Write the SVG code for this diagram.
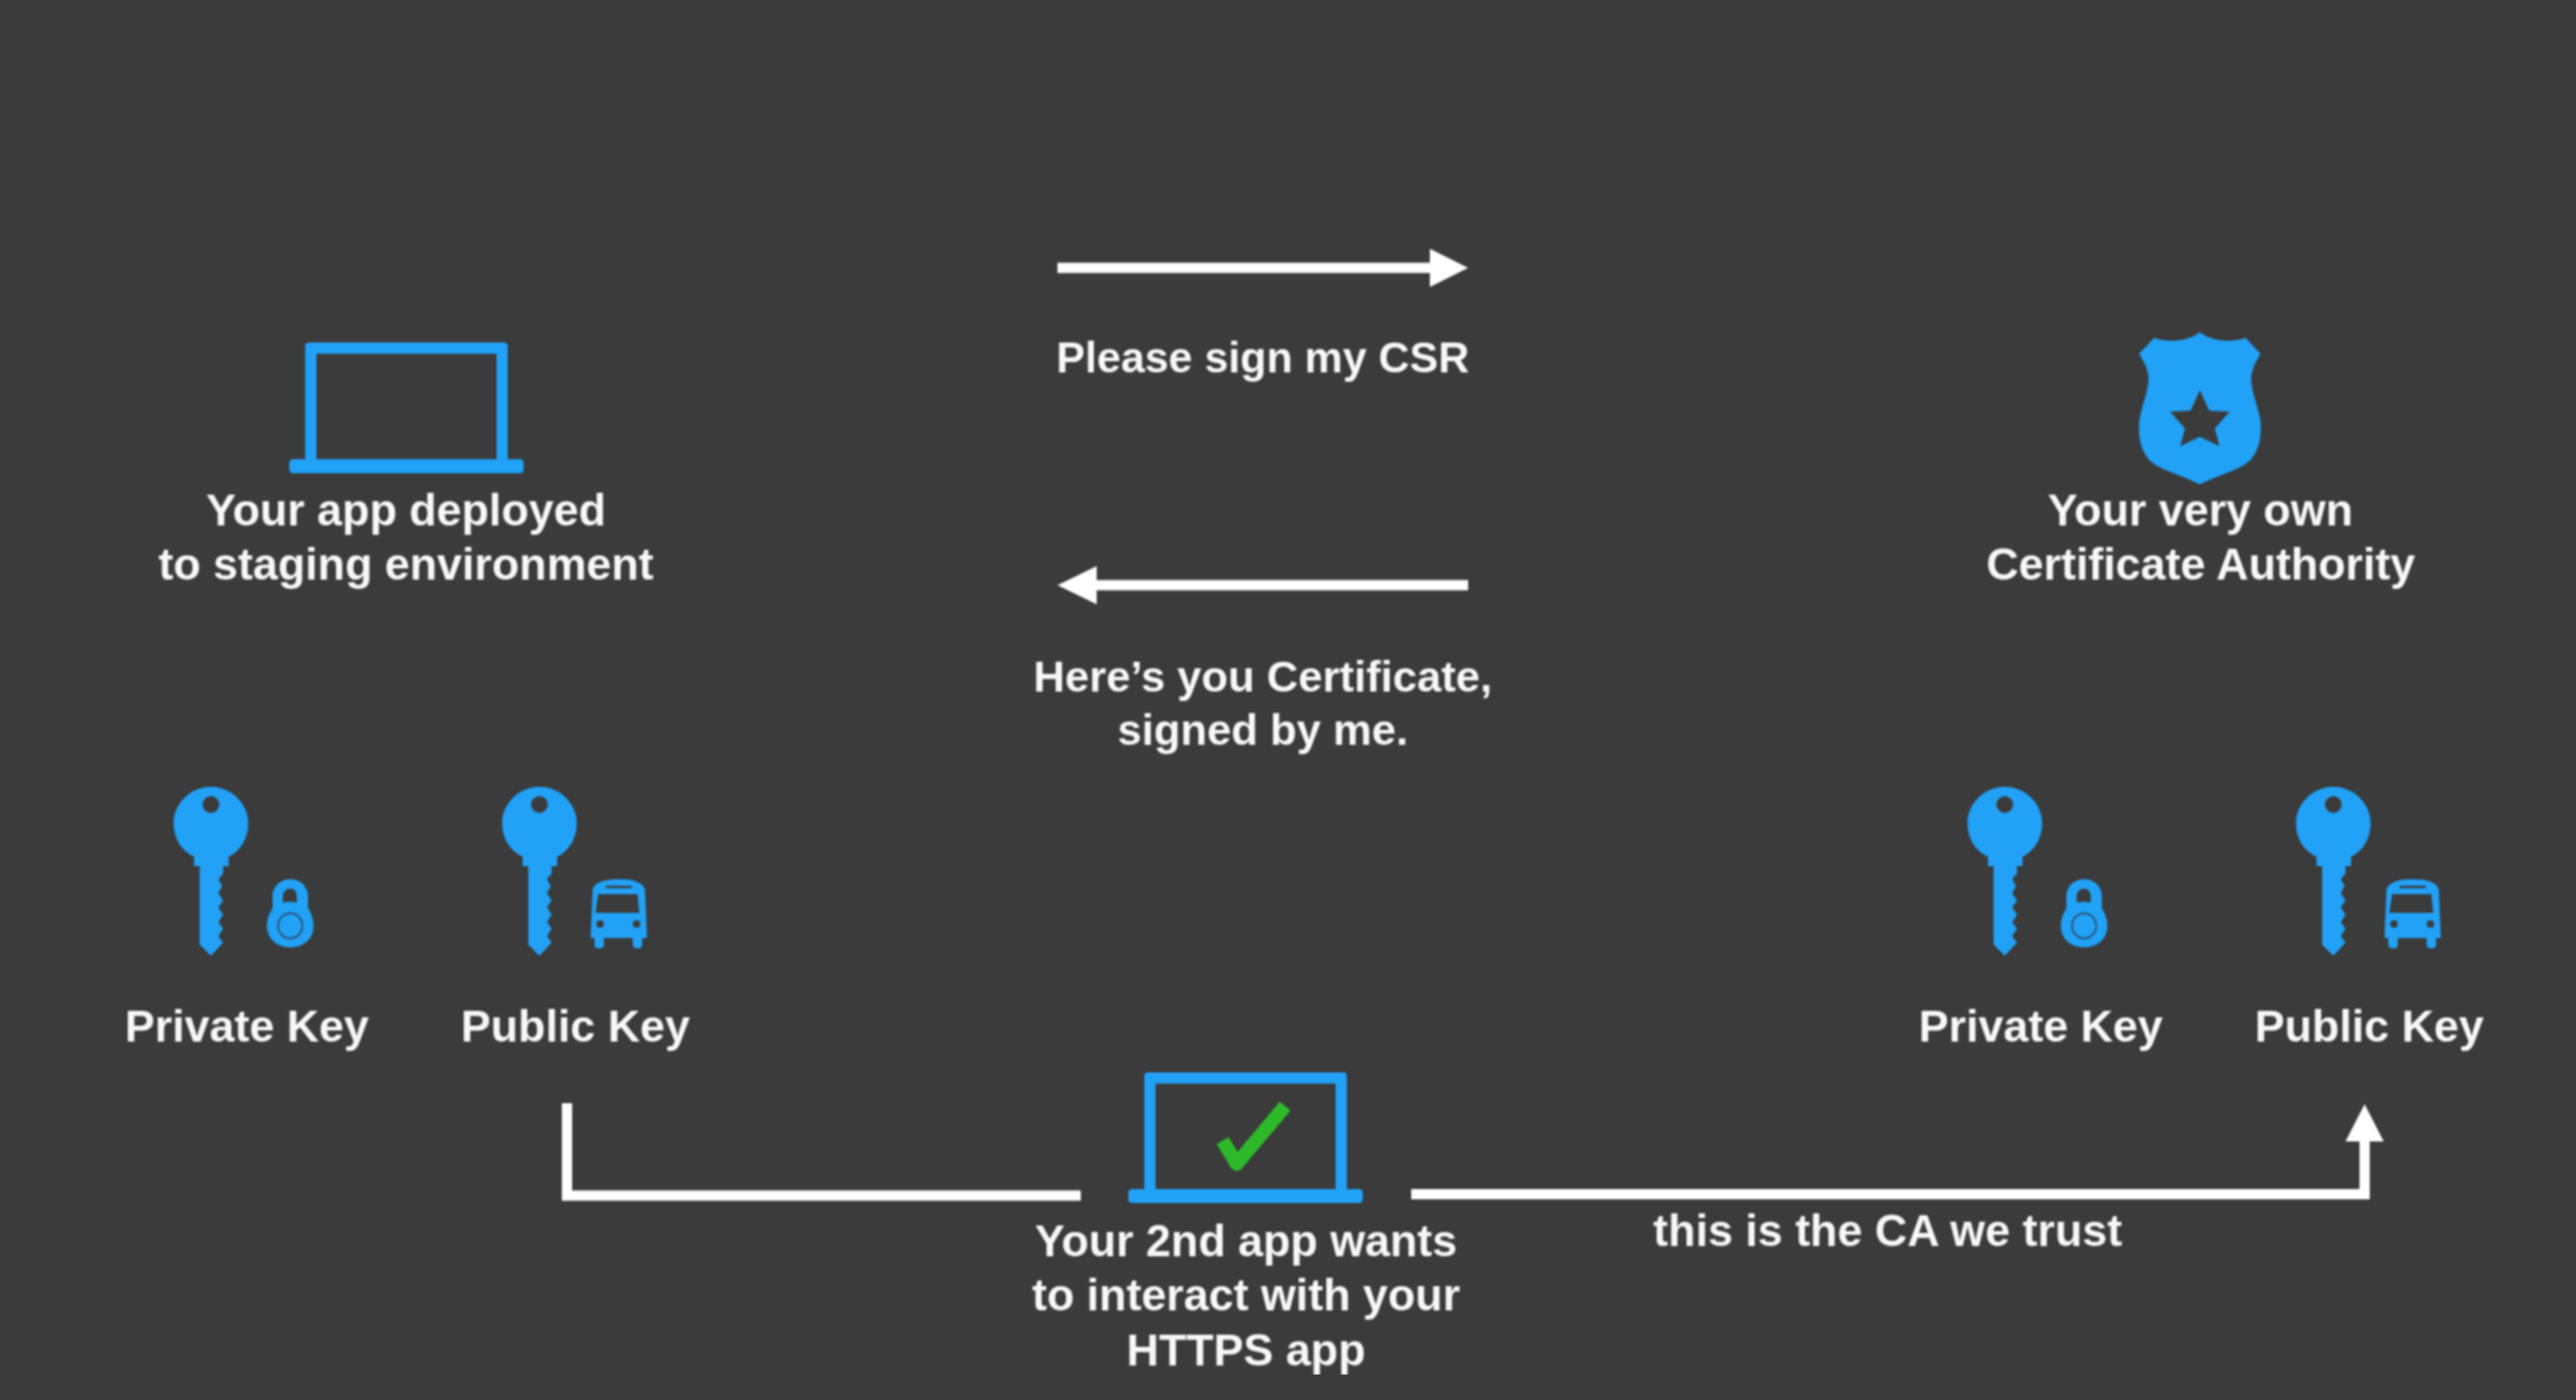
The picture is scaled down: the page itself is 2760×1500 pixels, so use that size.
<svg xmlns="http://www.w3.org/2000/svg" width="2760" height="1500" viewBox="0 0 2760 1500">
<style>
.t{font-family:"Liberation Sans",Arial,sans-serif;font-weight:700;font-size:48px;fill:#f8f8f8;text-anchor:middle}
.s{font-size:46px}
.m{font-size:46.700px}
.b{fill:#20a2f7}
.c{fill:none;stroke:#fff;stroke-width:11}
.h{fill:#fff}
</style>
<defs>
<filter id="soft" x="0" y="0" width="100%" height="100%"><feGaussianBlur stdDeviation="0.800"/></filter>
<path id="key" class="b" fill-rule="evenodd" d="M225 843C247 843 265 861 265 882C265 899 256 912 244 918V928H238V936L233 942L237 949L233 957L238 965L233 972L238 980L233 988L238 995L233 1003L238 1010L225 1024L213 1012V928H207V918C194 912 185 899 185 882C185 861 203 843 225 843ZM225 853A9 9 0 1 0 225 871A9 9 0 1 0 225 853Z"/>
<g id="lock">
<path class="b" fill-rule="evenodd" d="M311 942C322 942 330 950 330 960V973C333 978 336 985 336 992C336 1006 325 1015 311 1015C297 1015 286 1006 286 992C286 985 289 978 292 973V960C292 950 300 942 311 942ZM311 952C306 952 303 956 303 961V967C306 967 308 966 311 966C313 966 316 967 318 967V961C318 956 316 952 311 952Z"/>
<ellipse cx="311" cy="992" rx="13" ry="13.500" fill="none" stroke="#2b4258" stroke-width="2"/>
</g>
<path id="bus" class="b" fill-rule="evenodd" d="M663 942C677 942 689 945 691 953L693 1000V1005H688V1012Q688 1016 684 1016H682Q678 1016 678 1012V1005H647V1012Q647 1016 643 1016H641Q637 1016 637 1012V1005H633V1000L635 953C637 945 649 942 663 942ZM649 949V951.500H677V949ZM641 958L638 978H685L683 958ZM643 986A4 4 0 1 0 643 994A4 4 0 1 0 643 986ZM682 986A4 4 0 1 0 682 994A4 4 0 1 0 682 986Z"/>
<path id="laptop" class="b" fill-rule="evenodd" d="M331 367H540Q544 367 544 371V492H557Q561 492 561 496V503Q561 507 557 507H314Q310 507 310 503V496Q310 492 314 492H327V371Q327 367 331 367ZM339 379V492H532V379Z"/>
</defs>
<rect width="2760" height="1500" fill="#3b3b3b"/>
<g filter="url(#soft)">
<g id="connectors">
<path class="c" d="M1133 287H1535"/><path class="h" d="M1532 266.500L1573 287L1532 307.500Z"/>
<path class="c" d="M1573 627H1172"/><path class="h" d="M1175 606.500L1133 627L1175 647.500Z"/>
<path class="c" d="M607.500 1182V1281H1158"/>
<path class="c" d="M1512 1279.500H2533.500V1218"/><path class="h" d="M2513 1223L2533.500 1183L2554 1223Z"/>
</g>
<g id="app-staging"><use href="#laptop"/>
<text class="t" x="435" y="563">Your app deployed</text><text class="t" x="435" y="621">to staging environment</text></g>
<g id="ca">
<path class="b" fill-rule="evenodd" d="M2357 356C2345 365 2325 368 2308 362L2292 379C2298 389 2302 397 2302 406C2302 420 2294 435 2292 453C2291 470 2294 482 2302 492C2312 503 2335 508 2357 519C2379 508 2402 503 2412 492C2420 482 2423 470 2422 453C2420 435 2412 420 2412 406C2412 397 2416 389 2422 379L2406 362C2389 368 2369 365 2357 356ZM2357 418L2367 440L2389 441L2373 459L2378 478L2357 468L2336 478L2341 459L2325 441L2347 440Z"/>
<text class="t" x="2357.500" y="563">Your very own</text><text class="t" x="2358" y="621">Certificate Authority</text></g>
<g id="csr-label"><text class="t s" x="1353" y="398.500">Please sign my CSR</text></g>
<g id="cert-label"><text class="t m" x="1353" y="741">Here’s you Certificate,</text><text class="t m" x="1353" y="797.500">signed by me.</text></g>
<g id="left-private"><use href="#key" x="1"/><use href="#lock"/><text class="t" x="264.500" y="1116">Private Key</text></g>
<g id="left-public"><use href="#key" x="353"/><use href="#bus"/><text class="t" x="616.500" y="1116">Public Key</text></g>
<g id="right-private"><use href="#key" x="1923"/><use href="#lock" x="1922"/><text class="t" x="2186.500" y="1116">Private Key</text></g>
<g id="right-public"><use href="#key" x="2275"/><use href="#bus" x="1922"/><text class="t" x="2538.500" y="1116">Public Key</text></g>
<g id="second-app"><use href="#laptop" x="899" y="782"/>
<path d="M1310 1222L1325 1247L1377 1185" fill="none" stroke="#2fb92a" stroke-width="15" stroke-linejoin="round"/>
<text class="t" x="1335" y="1346">Your 2nd app wants</text><text class="t" x="1335" y="1404">to interact with your</text><text class="t" x="1335" y="1463">HTTPS app</text></g>
<g id="trust-label"><text class="t" x="2022.500" y="1334.500">this is the CA we trust</text></g>
</g>
</svg>
